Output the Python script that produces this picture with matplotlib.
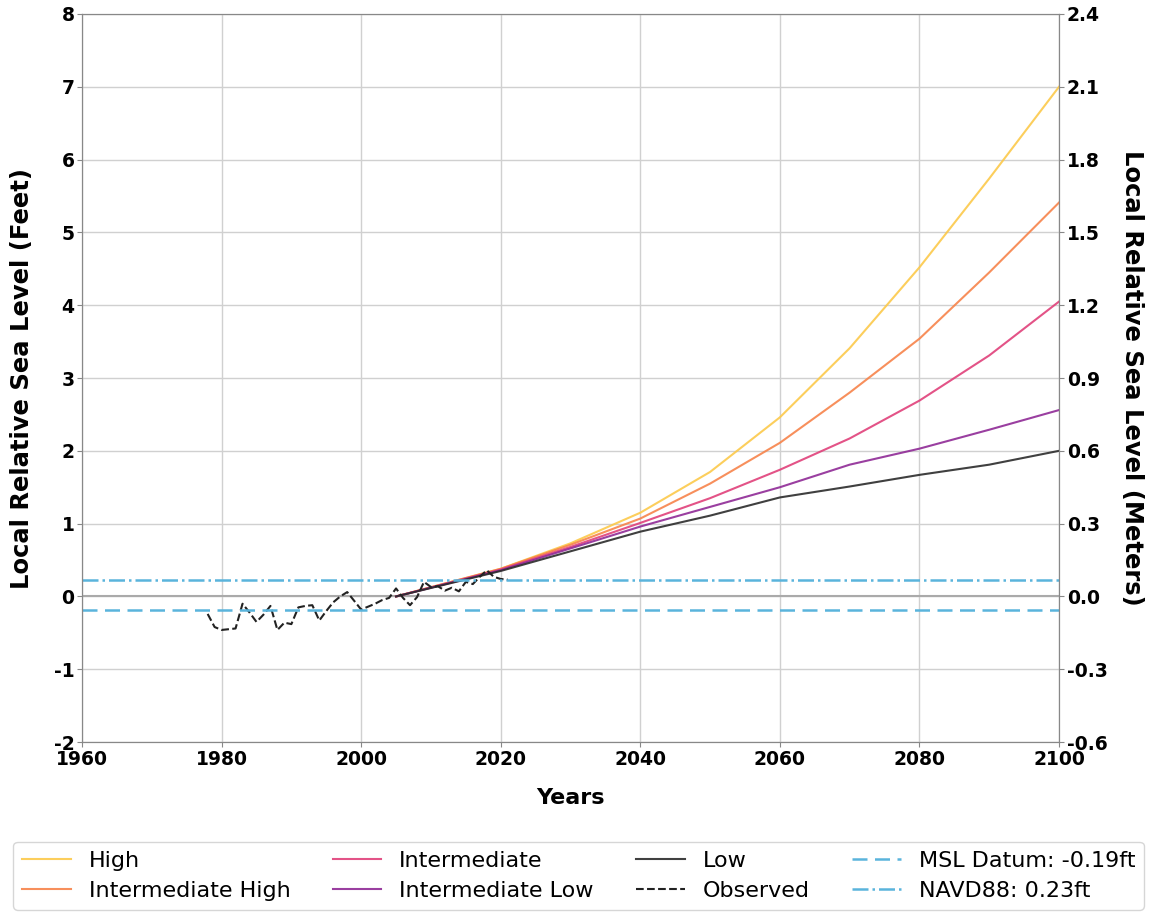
import numpy as np
import matplotlib
matplotlib.use('Agg')
import matplotlib.pyplot as plt

plt.rcParams['axes.unicode_minus'] = False

# Escenarios de proyección (pies)
proj_years = [2005, 2020, 2030, 2040, 2050, 2060, 2070, 2080, 2090, 2100]
high = [0.0, 0.38, 0.73, 1.15, 1.71, 2.46, 3.41, 4.52, 5.74, 7.0]
int_high = [0.0, 0.38, 0.71, 1.07, 1.55, 2.11, 2.80, 3.54, 4.45, 5.41]
intermediate = [0.0, 0.37, 0.68, 1.01, 1.35, 1.74, 2.17, 2.69, 3.31, 4.05]
int_low = [0.0, 0.36, 0.66, 0.96, 1.23, 1.50, 1.81, 2.03, 2.29, 2.56]
low = [0.0, 0.35, 0.62, 0.89, 1.11, 1.36, 1.51, 1.67, 1.81, 2.0]

# Observado (pies)
obs_years = list(range(1978, 2022))
observed = [-0.24, -0.42, -0.46, -0.45, -0.44, -0.10, -0.22, -0.35, -0.25, -0.13,
            -0.46, -0.36, -0.38, -0.15, -0.13, -0.12, -0.33, -0.20, -0.08, 0.00,
            0.06, -0.06, -0.18, -0.14, -0.10, -0.05, -0.02, 0.11, -0.02, -0.12,
            -0.01, 0.20, 0.13, 0.14, 0.08, 0.12, 0.07, 0.20, 0.17, 0.27,
            0.36, 0.27, 0.24, 0.23]

msl_datum = -0.19
navd88 = 0.23

fig = plt.figure(figsize=(11.57, 9.15), dpi=100)
ax = fig.add_axes([0.0709, 0.189, 0.8444, 0.7957])

ax.plot(proj_years, high, color='#fcc94a', lw=1.5, alpha=0.9, label='High')
ax.plot(proj_years, int_high, color='#f7834a', lw=1.5, alpha=0.9, label='Intermediate High')
ax.plot(proj_years, intermediate, color='#e0407a', lw=1.5, alpha=0.9, label='Intermediate')
ax.plot(proj_years, int_low, color='#8f2a96', lw=1.5, alpha=0.9, label='Intermediate Low')
ax.plot(proj_years, low, color='#2b2b2b', lw=1.5, alpha=0.9, label='Low')
ax.plot(obs_years, observed, color='#222222', lw=1.5, ls='--', label='Observed')

ax.axhline(0, color='#aaaaaa', lw=1.5, zorder=1)
ax.axhline(msl_datum, color='#5ab4dc', lw=1.8, ls='--', dashes=(6, 3),
           label=f'MSL Datum: {msl_datum}ft')
ax.axhline(navd88, color='#5ab4dc', lw=1.8, ls='-.', label=f'NAVD88: {navd88}ft')

ax.set_xlim(1960, 2100)
ax.set_ylim(-2, 8)
ax.set_xticks(range(1960, 2101, 20))
ax.set_yticks(range(-2, 9))
ax.grid(True, color='#d0d0d0', lw=1)
ax.set_axisbelow(True)

for s in ax.spines.values():
    s.set_color('#888888')
ax.tick_params(colors='#888888', labelcolor='black', labelsize=13.5, pad=2)
for lab in ax.get_xticklabels() + ax.get_yticklabels():
    lab.set_fontweight('bold')

ax.set_xlabel('Years', fontsize=16, fontweight='bold', labelpad=14)
ax.set_ylabel('Local Relative Sea Level (Feet)', fontsize=17.5, fontweight='bold', labelpad=14)

# Eje derecho en metros
ax2 = ax.twinx()
ax2.set_ylim(-0.6, 2.4)
m_ticks = np.round(np.arange(-0.6, 2.41, 0.3), 1)
ax2.set_yticks(m_ticks)
ax2.set_yticklabels([f'{v:.1f}' for v in m_ticks])
for s in ax2.spines.values():
    s.set_color('#888888')
ax2.tick_params(colors='#888888', labelcolor='black', labelsize=13.5, pad=2)
for lab in ax2.get_yticklabels():
    lab.set_fontweight('bold')
ax2.set_ylabel('Local Relative Sea Level (Meters)', fontsize=17.5, fontweight='bold',
               rotation=270, labelpad=26)

handles, labels = ax.get_legend_handles_labels()
fig.legend(handles, labels, loc='upper center', bbox_to_anchor=(0.5, 0.08),
           borderaxespad=0, ncol=4, fontsize=16, frameon=True, edgecolor='#cccccc',
           columnspacing=1.9, handlelength=2.2, labelspacing=0.45)

fig.savefig('out.png', dpi=100)
